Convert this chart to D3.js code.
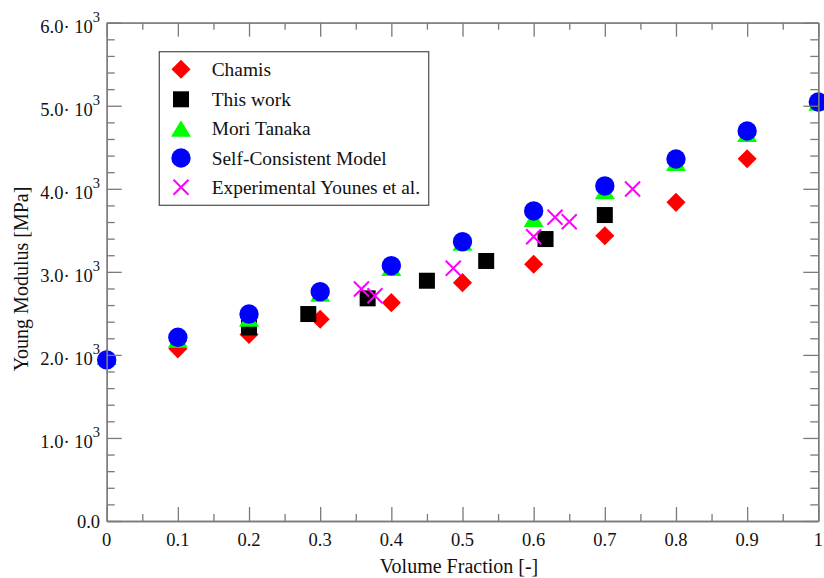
<!DOCTYPE html>
<html>
<head>
<meta charset="utf-8">
<script src="https://cdn.jsdelivr.net/npm/d3@7"></script>
<style>
  html, body { margin: 0; padding: 0; background: #fff; }
  svg { display: block; font-family: "Liberation Serif", "Times New Roman", serif; }
</style>
</head>
<body>
<svg id="chart" width="824" height="578"></svg>
<script>
// Young's modulus [MPa] versus volume fraction for several models
const volumeFraction = [0, 0.1, 0.2, 0.3, 0.4, 0.5, 0.6, 0.7, 0.8, 0.9, 1.0];
const chamis         = [1940, 2073, 2245, 2429, 2629, 2870, 3091, 3435, 3837, 4362, 5040];
const moriTanaka     = [1975, 2183, 2436, 2737, 3046, 3351, 3636, 3970, 4311, 4660, 5035];
const selfConsistent = [1940, 2212, 2492, 2761, 3074, 3363, 3733, 4034, 4359, 4696, 5045];

const thisWorkFraction = [0.2, 0.2833, 0.3667, 0.45, 0.5333, 0.6167, 0.7];
const thisWork         = [2330, 2492, 2681, 2893, 3131, 3395, 3684];

const younesFraction = [0.358, 0.377, 0.487, 0.600, 0.630, 0.650, 0.739];
const younes         = [2793, 2713, 3043, 3423, 3657, 3604, 3998];

const xMajorTicks = [0, 0.1, 0.2, 0.3, 0.4, 0.5, 0.6, 0.7, 0.8, 0.9, 1];
const yMajorTicks = [0, 1000, 2000, 3000, 4000, 5000, 6000];
const yTickMantissa = ["0.0", "1.0", "2.0", "3.0", "4.0", "5.0", "6.0"];

const legendNames = ["Chamis", "This work", "Mori Tanaka", "Self-Consistent Model", "Experimental Younes et al."];

const svg = d3.select("#chart");
const plotLeft = 106.7, plotRight = 818.3, plotTop = 22.7, plotBottom = 521;
const x = d3.scaleLinear().domain([0, 1]).range([plotLeft, plotRight]);
const y = d3.scaleLinear().domain([0, 6000]).range([plotBottom, plotTop]);

const axisColor = "#7a7a7a";

// marker shapes, centred on their bounding box
const diamondPath = d3.symbol(d3.symbolSquare, 182)();
const squarePath = d3.symbol(d3.symbolSquare, 256)();
const circlePath = d3.symbol(d3.symbolCircle, 295)();
const trianglePath = "M0,-8.5L10,8L-10,8Z";

function drawMarkers(g, xs, ys, kind) {
  const pts = xs.map((v, i) => [x(v), y(ys[i])]);
  const sel = g.selectAll(null).data(pts).enter();
  if (kind === "diamond") {
    sel.append("path").attr("d", diamondPath).attr("fill", "#ff0000")
      .attr("transform", d => `translate(${d[0]},${d[1]}) rotate(45)`);
  } else if (kind === "square") {
    sel.append("path").attr("d", squarePath).attr("fill", "#000000")
      .attr("transform", d => `translate(${d[0]},${d[1]})`);
  } else if (kind === "triangle") {
    sel.append("path").attr("d", trianglePath).attr("fill", "#00ff00")
      .attr("transform", d => `translate(${d[0]},${d[1]})`);
  } else if (kind === "circle") {
    sel.append("path").attr("d", circlePath).attr("fill", "#0000ff")
      .attr("transform", d => `translate(${d[0]},${d[1]})`);
  } else if (kind === "cross") {
    sel.append("path").attr("d", "M-7.5,-7.5L7.5,7.5M-7.5,7.5L7.5,-7.5")
      .attr("stroke", "#ff00ff").attr("stroke-width", 2).attr("fill", "none")
      .attr("transform", d => `translate(${d[0]},${d[1]})`);
  }
}

const marks = svg.append("g");
drawMarkers(marks.append("g"), volumeFraction, chamis, "diamond");
drawMarkers(marks.append("g"), thisWorkFraction, thisWork, "square");
drawMarkers(marks.append("g"), volumeFraction, moriTanaka, "triangle");
drawMarkers(marks.append("g"), volumeFraction, selfConsistent, "circle");
drawMarkers(marks.append("g"), younesFraction, younes, "cross");

// frame with inward major and minor ticks on all four sides
const xMinor = d3.range(0.05, 1, 0.1);
const yMinor = d3.range(0, 6001, 200).filter(v => v % 1000 !== 0);

function styleAxis(g) {
  g.selectAll("path.domain").attr("stroke", axisColor).attr("stroke-width", 1.3);
  g.selectAll(".tick line").attr("stroke", axisColor).attr("stroke-width", 1.3);
  g.selectAll(".tick text").remove();
}

const axes = svg.append("g");
axes.append("g").attr("transform", `translate(0,${plotBottom})`)
  .call(d3.axisBottom(x).tickValues(xMajorTicks).tickSize(-14).tickSizeOuter(0)).call(styleAxis);
axes.append("g").attr("transform", `translate(0,${plotBottom})`)
  .call(d3.axisBottom(x).tickValues(xMinor).tickSize(-7).tickSizeOuter(0)).call(styleAxis);
axes.append("g").attr("transform", `translate(0,${plotTop})`)
  .call(d3.axisTop(x).tickValues(xMajorTicks).tickSize(-14).tickSizeOuter(0)).call(styleAxis);
axes.append("g").attr("transform", `translate(0,${plotTop})`)
  .call(d3.axisTop(x).tickValues(xMinor).tickSize(-7).tickSizeOuter(0)).call(styleAxis);
axes.append("g").attr("transform", `translate(${plotLeft},0)`)
  .call(d3.axisLeft(y).tickValues(yMajorTicks).tickSize(-15).tickSizeOuter(0)).call(styleAxis);
axes.append("g").attr("transform", `translate(${plotLeft},0)`)
  .call(d3.axisLeft(y).tickValues(yMinor).tickSize(-8).tickSizeOuter(0)).call(styleAxis);
axes.append("g").attr("transform", `translate(${plotRight},0)`)
  .call(d3.axisRight(y).tickValues(yMajorTicks).tickSize(-15).tickSizeOuter(0)).call(styleAxis);
axes.append("g").attr("transform", `translate(${plotRight},0)`)
  .call(d3.axisRight(y).tickValues(yMinor).tickSize(-8).tickSizeOuter(0)).call(styleAxis);

// tick labels
const labels = svg.append("g").attr("fill", "#111");
labels.selectAll(null).data(xMajorTicks).enter().append("text")
  .attr("x", d => x(d)).attr("y", plotBottom + 25)
  .attr("text-anchor", "middle").attr("font-size", 18.5)
  .text(d => d === 0 ? "0" : d === 1 ? "1" : d.toFixed(1));

yMajorTicks.forEach((v, i) => {
  const t = labels.append("text")
    .attr("x", 100).attr("y", y(v) + (v === 0 ? 6.7 : 10))
    .attr("text-anchor", "end").attr("font-size", 18.5);
  if (v === 0) {
    t.text(yTickMantissa[i]);
  } else {
    t.append("tspan").text(yTickMantissa[i] + "\u00B7 10");
    t.append("tspan").attr("font-size", 14.5).attr("dy", -11).text("3");
  }
});

// axis titles
svg.append("text").attr("x", 459).attr("y", 573)
  .attr("text-anchor", "middle").attr("font-size", 20).attr("fill", "#111")
  .text("Volume Fraction [-]");
svg.append("text").attr("transform", "translate(27.5,279) rotate(-90)")
  .attr("text-anchor", "middle").attr("font-size", 20).attr("fill", "#111")
  .text("Young Modulus [MPa]");

// legend
const legend = svg.append("g");
legend.append("rect").attr("x", 159.3).attr("y", 51.7).attr("width", 269.4).attr("height", 153.6)
  .attr("fill", "#fff").attr("stroke", "#5a5a5a").attr("stroke-width", 1.3);
const kinds = ["diamond", "square", "triangle", "circle", "cross"];
const rowY = [69.3, 99.3, 128.7, 158, 187.3];
kinds.forEach((k, i) => {
  const g = legend.append("g");
  const px = x.invert(181), py = y.invert(rowY[i]);
  drawMarkers(g, [px], [py], k);
  legend.append("text").attr("x", 211.7).attr("y", rowY[i] + 6.6)
    .attr("font-size", 19.4).attr("fill", "#111").text(legendNames[i]);
});
</script>
</body>
</html>
